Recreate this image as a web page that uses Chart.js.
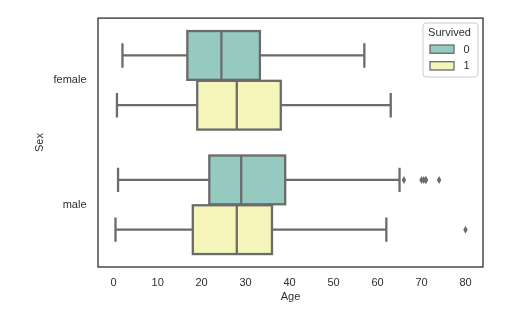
<!DOCTYPE html>
<html>
<head>
<meta charset="utf-8">
<script src="https://cdn.jsdelivr.net/npm/chart.js@4.4.1/dist/chart.umd.min.js"></script>
<style>
  html, body { margin: 0; padding: 0; background: #ffffff; }
  #wrap { width: 532px; height: 315px; }
</style>
</head>
<body>
<div id="wrap"><canvas id="c" width="532" height="315"></canvas></div>
<script>
// ---- data ----
const categories = ['female', 'male'];
const seriesLabels = ['0', '1'];
const legendTitle = 'Survived';
const xTitle = 'Age';
const yTitle = 'Sex';
const xTickValues = [0, 10, 20, 30, 40, 50, 60, 70, 80];

// Survived = 0
const diedLow = [2, 1];
const diedQ1 = [16.75, 21.75];
const diedMedian = [24.5, 29];
const diedQ3 = [33.25, 39];
const diedHigh = [57, 65];
const diedOutliers = [[], [66, 70, 70.5, 71, 71, 74]];

// Survived = 1
const survLow = [0.75, 0.42];
const survQ1 = [19, 18];
const survMedian = [28, 28];
const survQ3 = [38, 36];
const survHigh = [63, 62];
const survOutliers = [[], [80]];

// ---- styles ----
const FONT = '"Liberation Sans", Arial, "DejaVu Sans", sans-serif';
const TEXT = '#2e2e2e';
const LINE = '#6b6b6b';
const FILLS = ['#96cac1', '#f5f5bb'];

const stats = [
  { low: diedLow, median: diedMedian, high: diedHigh, out: diedOutliers },
  { low: survLow, median: survMedian, high: survHigh, out: survOutliers }
];

const boxPlugin = {
  id: 'boxPlugin',
  afterDatasetsDraw(chart) {
    const ctx = chart.ctx;
    const xs = chart.scales.x;
    ctx.save();
    ctx.strokeStyle = LINE;
    ctx.lineWidth = 2.3;
    ctx.lineCap = 'butt';
    chart.data.datasets.forEach((ds, d) => {
      const meta = chart.getDatasetMeta(d);
      const st = stats[d];
      meta.data.forEach((el, i) => {
        const p = el.getProps(['y', 'height'], true);
        const y = p.y, h = p.height;
        const q1 = xs.getPixelForValue(ds.data[i][0]);
        const q3 = xs.getPixelForValue(ds.data[i][1]);
        const lo = xs.getPixelForValue(st.low[i]);
        const hi = xs.getPixelForValue(st.high[i]);
        const med = xs.getPixelForValue(st.median[i]);
        ctx.beginPath();
        // whiskers
        ctx.moveTo(q1, y); ctx.lineTo(lo, y);
        ctx.moveTo(q3, y); ctx.lineTo(hi, y);
        // caps
        ctx.moveTo(lo, y - h / 4); ctx.lineTo(lo, y + h / 4);
        ctx.moveTo(hi, y - h / 4); ctx.lineTo(hi, y + h / 4);
        ctx.stroke();
        // box outline
        ctx.lineJoin = 'miter';
        ctx.strokeRect(q1, y - h / 2, q3 - q1, h);
        // median
        ctx.beginPath();
        ctx.moveTo(med, y - h / 2); ctx.lineTo(med, y + h / 2);
        ctx.stroke();
        // outliers (thin diamonds)
        ctx.fillStyle = LINE;
        st.out[i].forEach(v => {
          const ox = xs.getPixelForValue(v);
          ctx.beginPath();
          ctx.moveTo(ox, y - 4);
          ctx.lineTo(ox + 2.2, y);
          ctx.lineTo(ox, y + 4);
          ctx.lineTo(ox - 2.2, y);
          ctx.closePath();
          ctx.fill();
        });
      });
    });
    ctx.restore();
  },
  afterDraw(chart) {
    const ctx = chart.ctx;
    const a = chart.chartArea;
    ctx.save();
    // frame
    ctx.strokeStyle = '#262626';
    ctx.lineWidth = 1.25;
    ctx.strokeRect(a.left, a.top, a.right - a.left, a.bottom - a.top);
    // legend
    const lx = 423, ly = 23, lw = 55, lh = 54, r = 3;
    ctx.beginPath();
    ctx.moveTo(lx + r, ly);
    ctx.arcTo(lx + lw, ly, lx + lw, ly + lh, r);
    ctx.arcTo(lx + lw, ly + lh, lx, ly + lh, r);
    ctx.arcTo(lx, ly + lh, lx, ly, r);
    ctx.arcTo(lx, ly, lx + lw, ly, r);
    ctx.closePath();
    ctx.fillStyle = 'rgba(255,255,255,0.8)';
    ctx.fill();
    ctx.strokeStyle = '#cccccc';
    ctx.lineWidth = 1;
    ctx.stroke();
    ctx.fillStyle = TEXT;
    ctx.font = '11px ' + FONT;
    ctx.textAlign = 'center';
    ctx.textBaseline = 'middle';
    ctx.fillText(legendTitle, 449.5, 32.5);
    chart.data.datasets.forEach((ds, d) => {
      const py = 45 + d * 16.7;
      ctx.fillStyle = ds.backgroundColor;
      ctx.fillRect(430, py, 24, 8.3);
      ctx.strokeStyle = LINE;
      ctx.lineWidth = 1.3;
      ctx.strokeRect(430, py, 24, 8.3);
      ctx.fillStyle = TEXT;
      ctx.textAlign = 'left';
      ctx.fillText(ds.label, 463.5, py + 4.6);
    });
    ctx.restore();
  }
};

const datasets = seriesLabels.map((lab, d) => {
  const q1 = d === 0 ? diedQ1 : survQ1;
  const q3 = d === 0 ? diedQ3 : survQ3;
  return {
    label: lab,
    data: categories.map((c, i) => [q1[i], q3[i]]),
    backgroundColor: FILLS[d],
    borderWidth: 0,
    categoryPercentage: 0.8,
    barPercentage: 0.98
  };
});

new Chart(document.getElementById('c'), {
  type: 'bar',
  data: { labels: categories, datasets },
  options: {
    indexAxis: 'y',
    responsive: false,
    animation: false,
    layout: { padding: { top: 16, right: 49, bottom: 0, left: 0 } },
    plugins: { legend: { display: false }, tooltip: { enabled: false } },
    scales: {
      x: {
        type: 'linear',
        min: -3.56,
        max: 83.98,
        grid: { display: false, drawTicks: false, tickLength: 0 },
        border: { display: false },
        afterBuildTicks(scale) { scale.ticks = xTickValues.map(v => ({ value: v })); },
        afterFit(scale) { scale.height = 48; },
        ticks: { color: TEXT, font: { family: FONT, size: 11 }, padding: 9, maxRotation: 0, autoSkip: false },
        title: { display: true, text: xTitle, color: TEXT, font: { family: FONT, size: 11 }, padding: { top: 0, bottom: 11.4 } }
      },
      y: {
        type: 'category',
        grid: { display: false, drawTicks: false, tickLength: 0 },
        border: { display: false },
        afterFit(scale) { scale.width = 98; },
        ticks: { color: TEXT, font: { family: FONT, size: 11 }, padding: 11.5 },
        title: { display: true, text: yTitle, color: TEXT, font: { family: FONT, size: 11 }, padding: { top: 33.4, bottom: 0 } }
      }
    }
  },
  plugins: [boxPlugin]
});
</script>
</body>
</html>
